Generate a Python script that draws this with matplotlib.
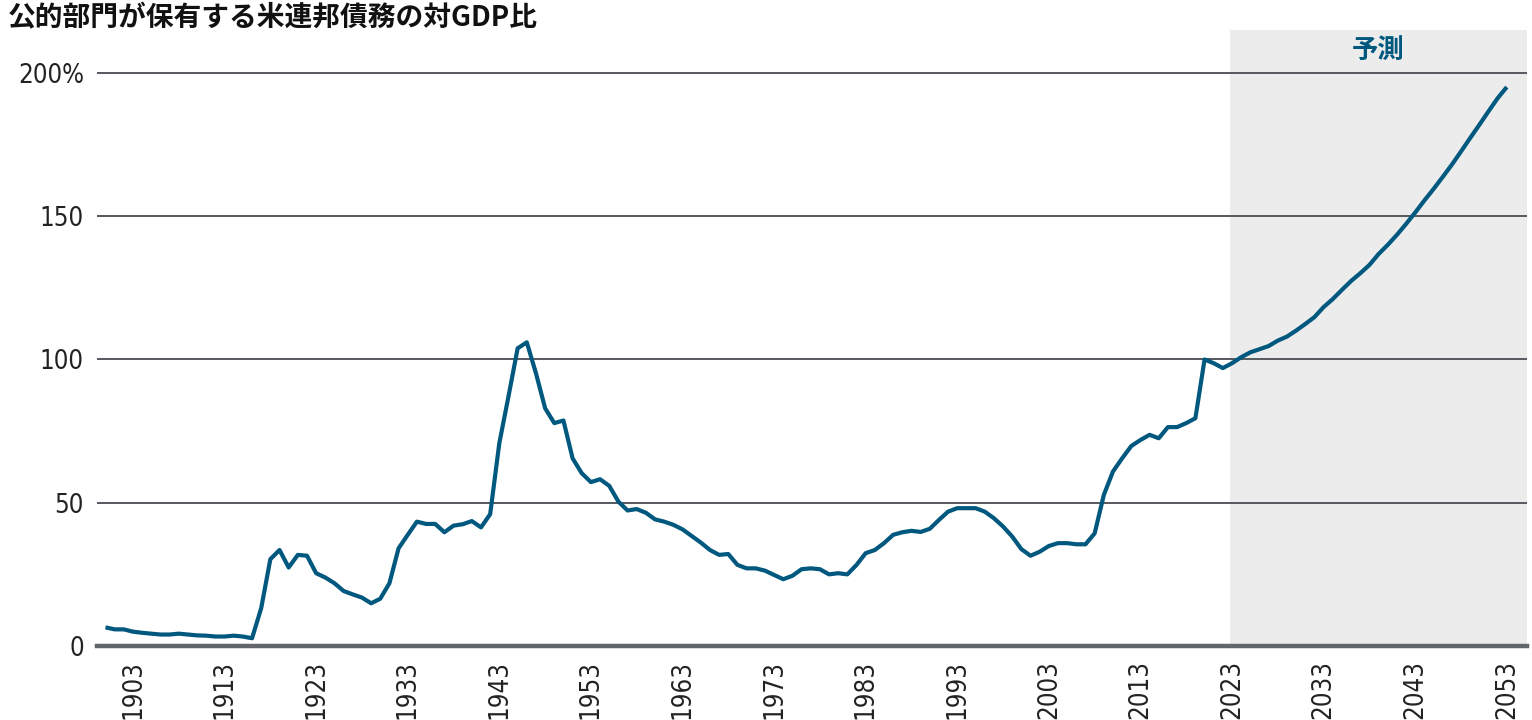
import matplotlib
matplotlib.use("Agg")
from matplotlib import pyplot as plt
from matplotlib import font_manager

# US federal debt held by the public, % of GDP
years = list(range(1900, 2054))
debt_pct = [
    # 1900-1919
    6.5, 5.8, 5.8, 5.0, 4.6, 4.3, 4.0, 4.0, 4.3, 4.0,
    3.7, 3.6, 3.3, 3.3, 3.6, 3.3, 2.7, 13.2, 30.3, 33.5,
    # 1920-1939
    27.4, 31.8, 31.5, 25.4, 23.9, 21.9, 19.2, 18.0, 16.9, 14.9,
    16.5, 21.9, 34.1, 38.8, 43.4, 42.6, 42.6, 39.7, 42.0, 42.5,
    # 1940-1959
    43.6, 41.4, 46.0, 70.8, 87.1, 103.9, 106.0, 95.2, 83.0, 77.8,
    78.7, 65.5, 60.3, 57.2, 58.2, 55.9, 50.4, 47.3, 47.8, 46.5,
    # 1960-1979
    44.2, 43.4, 42.3, 40.7, 38.4, 36.1, 33.5, 31.8, 32.1, 28.3,
    27.1, 27.1, 26.3, 24.8, 23.3, 24.5, 26.8, 27.1, 26.8, 25.0,
    # 1980-1999
    25.4, 25.0, 28.3, 32.4, 33.5, 35.9, 38.8, 39.7, 40.2, 39.8,
    40.9, 44.0, 46.9, 48.1, 48.1, 48.1, 46.9, 44.6, 41.7, 38.2,
    # 2000-2019
    33.8, 31.5, 32.9, 34.9, 35.9, 35.9, 35.5, 35.5, 39.3, 52.7,
    60.9, 65.5, 69.8, 71.9, 73.7, 72.5, 76.4, 76.4, 77.8, 79.5,
    # 2020-2039
    100.0, 98.7, 97.0, 98.7, 100.8, 102.5, 103.6, 104.7, 106.6, 108.0,
    110.1, 112.4, 114.8, 118.3, 121.1, 124.3, 127.4, 130.1, 133.0, 136.8,
    # 2040-2053
    140.0, 143.5, 147.3, 151.3, 155.5, 159.5, 163.7, 168.0, 172.6, 177.3,
    181.9, 186.6, 191.2, 195.1,
]

xtick_years = list(range(1903, 2054, 10))
ytick_vals = [0, 50, 100, 150, 200]
ytick_labels = ["0", "50", "100", "150", "200%"]

title = "公的部門が保有する米連邦債務の対GDP比"
forecast_label = "予測"
forecast_start = 2022.75

LINE_COLOR = "#00587f"
GRID_COLOR = "#55595f"
SHADE_COLOR = "#ececec"
CJK_FONT = ["Noto Sans CJK JP", "DejaVu Sans"]


def narrow_font(size):
    """look for a condensed sans face, else fall back to a smaller regular one"""
    prefs = ["LiberationSansNarrow-Regular", "DejaVuSansCondensed.ttf",
             "Condensed-Regular", "Narrow"]
    files = [f.fname for f in font_manager.fontManager.ttflist]
    for key in prefs:
        for fn in files:
            base = fn.split("/")[-1]
            if key in base and "Bold" not in base and "Italic" not in base \
                    and "Oblique" not in base:
                return font_manager.FontProperties(fname=fn, size=size)
    return font_manager.FontProperties(family="DejaVu Sans",
                                       stretch="condensed", size=size * 0.8)


tick_fp = narrow_font(18.5)

fig = plt.figure(figsize=(15.32, 7.2), dpi=100)
ax = fig.add_axes([0.0633, 0.1028, 0.9334, 0.8555])

x_min, x_max = 1899.07, 2055.2
ax.set_xlim(x_min, x_max)
ax.set_ylim(0, 215)

# forecast band
ax.axvspan(forecast_start, x_max, color=SHADE_COLOR, zorder=0, lw=0)
ax.text((forecast_start + x_max) / 2, 207.5, forecast_label,
        ha="center", va="center", fontsize=19, fontweight="bold",
        color=LINE_COLOR, family=CJK_FONT, zorder=4)

# grid lines and base line
for v in ytick_vals[1:]:
    ax.axhline(v, color=GRID_COLOR, lw=1.4, zorder=1)
ax.axhline(0, color="#62666b", lw=3.2, zorder=2, clip_on=False)

ax.plot(years, debt_pct, color=LINE_COLOR, lw=3.0, zorder=3,
        solid_joinstyle="round", solid_capstyle="butt")

for s in ax.spines.values():
    s.set_visible(False)

ax.set_yticks(ytick_vals)
ax.set_yticklabels(ytick_labels, fontproperties=tick_fp, color="#222222")
ax.set_xticks(xtick_years)
ax.set_xticklabels([str(y) for y in xtick_years], rotation=90,
                   fontproperties=tick_fp, color="#222222")
ax.tick_params(axis="y", length=0, pad=9.5)
ax.tick_params(axis="x", length=0, pad=10)

fig.text(0.005, 0.975, title, ha="left", va="center", fontsize=20,
         fontweight="bold", family=CJK_FONT, color="#111111")

fig.savefig("out.png", dpi=100)
